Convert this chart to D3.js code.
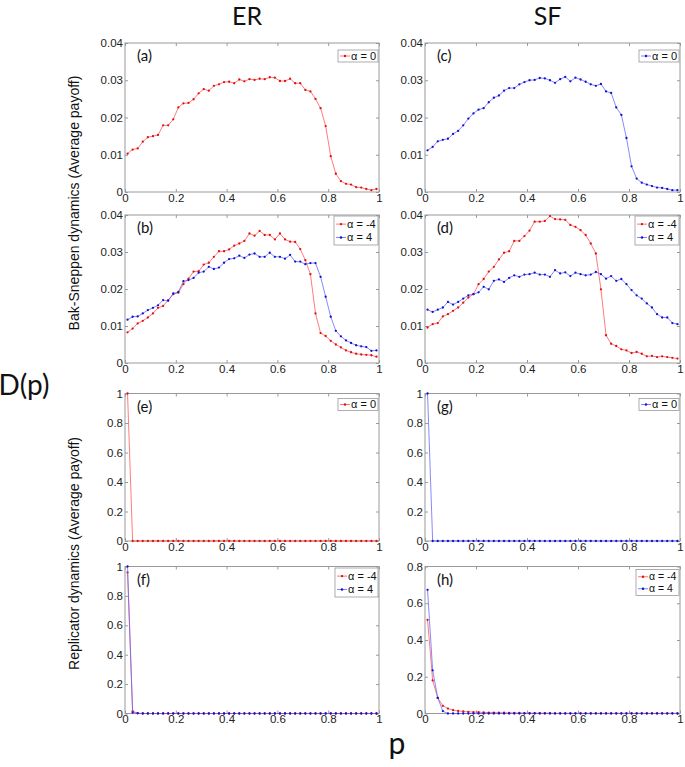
<!DOCTYPE html>
<html><head><meta charset="utf-8">
<script src="https://cdn.jsdelivr.net/npm/d3@7"></script>
<style>body{margin:0;background:#fff}svg{display:block}</style>
</head><body>
<svg id="chart" width="685" height="767"></svg>
<script>
// ---------- data ----------
const pValues = [0.01,0.03,0.05,0.07,0.09,0.11,0.13,0.15,0.17,0.19,
  0.21,0.23,0.25,0.27,0.29,0.31,0.33,0.35,0.37,0.39,
  0.41,0.43,0.45,0.47,0.49,0.51,0.53,0.55,0.57,0.59,
  0.61,0.63,0.65,0.67,0.69,0.71,0.73,0.75,0.77,0.79,
  0.81,0.83,0.85,0.87,0.89,0.91,0.93,0.95,0.97,0.99];

// (a) ER, Bak-Sneppen, alpha = 0
const erBS_alpha0 = [0.0103,0.0114,0.0117,0.0135,0.0147,0.0150,0.0153,0.0179,0.0179,0.0195,
  0.0227,0.0238,0.0239,0.0249,0.0265,0.0276,0.0272,0.0285,0.0289,0.0295,
  0.0296,0.0292,0.0302,0.0297,0.0303,0.0301,0.0304,0.0303,0.0308,0.0307,
  0.0298,0.0298,0.0304,0.0292,0.0292,0.0274,0.0270,0.0250,0.0225,0.0177,
  0.0096,0.0049,0.0029,0.0022,0.0020,0.0013,0.0012,0.0008,0.0005,0.0008];
// (c) SF, Bak-Sneppen, alpha = 0
const sfBS_alpha0 = [0.0112,0.0121,0.0136,0.0140,0.0143,0.0156,0.0164,0.0179,0.0197,0.0211,
  0.0221,0.0225,0.0241,0.0253,0.0259,0.0272,0.0279,0.0279,0.0289,0.0295,
  0.0300,0.0301,0.0306,0.0305,0.0300,0.0293,0.0303,0.0309,0.0297,0.0307,
  0.0302,0.0296,0.0289,0.0285,0.0290,0.0270,0.0266,0.0227,0.0207,0.0145,
  0.0069,0.0036,0.0025,0.0020,0.0016,0.0012,0.0011,0.0008,0.0005,0.0005];
// (b) ER, Bak-Sneppen, alpha = -4 / 4
const erBS_alphaM4 = [0.0083,0.0093,0.0107,0.0114,0.0123,0.0134,0.0149,0.0154,0.0170,0.0186,
  0.0190,0.0213,0.0228,0.0247,0.0248,0.0266,0.0271,0.0287,0.0302,0.0302,
  0.0307,0.0317,0.0323,0.0330,0.0350,0.0344,0.0357,0.0346,0.0346,0.0334,
  0.0350,0.0334,0.0328,0.0327,0.0308,0.0278,0.0240,0.0134,0.0081,0.0073,
  0.0060,0.0050,0.0042,0.0034,0.0029,0.0025,0.0023,0.0022,0.0021,0.0017];
const erBS_alpha4 = [0.0117,0.0125,0.0126,0.0134,0.0143,0.0149,0.0156,0.0170,0.0168,0.0188,
  0.0192,0.0221,0.0224,0.0230,0.0244,0.0247,0.0260,0.0254,0.0258,0.0271,
  0.0281,0.0283,0.0290,0.0284,0.0293,0.0296,0.0287,0.0287,0.0298,0.0287,
  0.0287,0.0282,0.0292,0.0274,0.0274,0.0267,0.0270,0.0270,0.0233,0.0179,
  0.0125,0.0087,0.0072,0.0061,0.0054,0.0048,0.0045,0.0043,0.0033,0.0034];
// (d) SF, Bak-Sneppen, alpha = -4 / 4
const sfBS_alphaM4 = [0.0096,0.0105,0.0108,0.0126,0.0132,0.0141,0.0150,0.0163,0.0177,0.0186,
  0.0213,0.0227,0.0247,0.0260,0.0280,0.0298,0.0302,0.0330,0.0330,0.0343,
  0.0358,0.0382,0.0382,0.0384,0.0397,0.0389,0.0388,0.0387,0.0373,0.0368,
  0.0359,0.0346,0.0323,0.0296,0.0199,0.0075,0.0052,0.0046,0.0037,0.0034,
  0.0027,0.0030,0.0025,0.0018,0.0019,0.0016,0.0018,0.0016,0.0014,0.0012];
const sfBS_alpha4 = [0.0144,0.0138,0.0144,0.0150,0.0165,0.0158,0.0165,0.0174,0.0183,0.0186,
  0.0191,0.0206,0.0199,0.0222,0.0226,0.0219,0.0230,0.0237,0.0233,0.0239,
  0.0240,0.0244,0.0239,0.0239,0.0233,0.0251,0.0242,0.0245,0.0235,0.0244,
  0.0240,0.0237,0.0239,0.0246,0.0240,0.0228,0.0235,0.0222,0.0227,0.0213,
  0.0197,0.0183,0.0174,0.0161,0.0150,0.0132,0.0123,0.0123,0.0108,0.0105];
// (e) ER, Replicator, alpha = 0
const erRep_alpha0 = [1,0,0,0,0,0,0,0,0,0, 0,0,0,0,0,0,0,0,0,0, 0,0,0,0,0,0,0,0,0,0,
  0,0,0,0,0,0,0,0,0,0, 0,0,0,0,0,0,0,0,0,0];
// (g) SF, Replicator, alpha = 0
const sfRep_alpha0 = [1,0,0,0,0,0,0,0,0,0, 0,0,0,0,0,0,0,0,0,0, 0,0,0,0,0,0,0,0,0,0,
  0,0,0,0,0,0,0,0,0,0, 0,0,0,0,0,0,0,0,0,0];
// (f) ER, Replicator, alpha = -4 / 4
const erRep_alphaM4 = [0.96,0.016,0.002,0,0,0,0,0,0,0, 0,0,0,0,0,0,0,0,0,0, 0,0,0,0,0,0,0,0,0,0,
  0,0,0,0,0,0,0,0,0,0, 0,0,0,0,0,0,0,0,0,0];
const erRep_alpha4 = [1.0,0.006,0.001,0,0,0,0,0,0,0, 0,0,0,0,0,0,0,0,0,0, 0,0,0,0,0,0,0,0,0,0,
  0,0,0,0,0,0,0,0,0,0, 0,0,0,0,0,0,0,0,0,0];
// (h) SF, Replicator, alpha = -4 / 4
const sfRep_alphaM4 = [0.51,0.18,0.085,0.042,0.027,0.018,0.014,0.011,0.009,0.008,
  0.007,0.006,0.005,0.005,0.004,0.004,0.003,0.003,0.003,0.002,
  0.002,0.002,0.002,0.002,0.002,0.001,0.001,0.001,0.001,0.001,
  0.001,0.001,0.001,0.001,0.001,0.001,0.001,0.001,0.001,0.001,
  0.001,0.001,0.001,0.001,0.001,0.001,0.001,0.001,0.001,0.001];
const sfRep_alpha4 = [0.673,0.235,0.085,0.013,0,0,0,0,0,0, 0,0,0,0,0,0,0,0,0,0, 0,0,0,0,0,0,0,0,0,0,
  0,0,0,0,0,0,0,0,0,0, 0,0,0,0,0,0,0,0,0,0];

// ticks
const xTicks = [0,0.2,0.4,0.6,0.8,1];
const xTickLabels = ["0","0.2","0.4","0.6","0.8","1"];
const yTicksBS = [0,0.01,0.02,0.03,0.04];
const yTickLabelsBS = ["0","0.01","0.02","0.03","0.04"];
const yTicksRep = [0,0.2,0.4,0.6,0.8,1];
const yTickLabelsRep = ["0","0.2","0.4","0.6","0.8","1"];
const yTicksRepH = [0,0.2,0.4,0.6,0.8];
const yTickLabelsRepH = ["0","0.2","0.4","0.6","0.8"];

const colTitles = ["ER","SF"];
const rowTitles = ["Bak-Sneppen dynamics (Average payoff)","Replicator dynamics (Average payoff)"];
const panelLabels = ["(a)","(b)","(e)","(f)","(c)","(d)","(g)","(h)"];
const labelA0 = "α = 0", labelAM4 = "α = -4", labelA4 = "α = 4";

// ---------- styling / layout ----------
const RED = {line:"#ff5050", dot:"#e01010"};
const BLUE = {line:"#6060ff", dot:"#1010d0"};
const cols = [[125,379],[425,680]];
const rows = [[43,192],[215,363],[393.5,541],[566.5,713.5]];
const tickFont = "'Liberation Sans', Arial, sans-serif";
const hdrFont = "Lato, 'Open Sans', sans-serif";

const panels = [
  {col:0,row:0,lab:panelLabels[0],yMax:0.04,yt:yTicksBS,ytl:yTickLabelsBS,
   series:[{d:erBS_alpha0,c:RED,name:labelA0}],leg:{dy:7,h:12,w:40}},
  {col:0,row:1,lab:panelLabels[1],yMax:0.04,yt:yTicksBS,ytl:yTickLabelsBS,
   series:[{d:erBS_alphaM4,c:RED,name:labelAM4},{d:erBS_alpha4,c:BLUE,name:labelA4}],leg:{dy:1,h:29,w:44}},
  {col:0,row:2,lab:panelLabels[2],yMax:1,yt:yTicksRep,ytl:yTickLabelsRep,
   series:[{d:erRep_alpha0,c:RED,name:labelA0}],leg:{dy:5,h:12,w:40}},
  {col:0,row:3,lab:panelLabels[3],yMax:1,yt:yTicksRep,ytl:yTickLabelsRep,
   series:[{d:erRep_alphaM4,c:RED,name:labelAM4},{d:erRep_alpha4,c:BLUE,name:labelA4}],leg:{dy:1.5,h:29,w:43}},
  {col:1,row:0,lab:panelLabels[4],yMax:0.04,yt:yTicksBS,ytl:yTickLabelsBS,
   series:[{d:sfBS_alpha0,c:BLUE,name:labelA0}],leg:{dy:7,h:12,w:40}},
  {col:1,row:1,lab:panelLabels[5],yMax:0.04,yt:yTicksBS,ytl:yTickLabelsBS,
   series:[{d:sfBS_alphaM4,c:RED,name:labelAM4},{d:sfBS_alpha4,c:BLUE,name:labelA4}],leg:{dy:1,h:29,w:44}},
  {col:1,row:2,lab:panelLabels[6],yMax:1,yt:yTicksRep,ytl:yTickLabelsRep,
   series:[{d:sfRep_alpha0,c:BLUE,name:labelA0}],leg:{dy:5,h:12,w:40}},
  {col:1,row:3,lab:panelLabels[7],yMax:0.8,yt:yTicksRepH,ytl:yTickLabelsRepH,
   series:[{d:sfRep_alphaM4,c:RED,name:labelAM4},{d:sfRep_alpha4,c:BLUE,name:labelA4}],leg:{dy:3,h:26,w:43}}
];

const svg = d3.select("#chart");
svg.append("rect").attr("width",685).attr("height",767).attr("fill","#fff");

// column titles
colTitles.forEach((t,i)=>{
  svg.append("text").attr("x",(cols[i][0]+cols[i][1])/2 - 5).attr("y",25)
    .attr("text-anchor","middle").attr("font-family",hdrFont).attr("font-size",25)
    .attr("fill","#111").text(t);
});
// D(p) and p
svg.append("text").attr("x",24).attr("y",395).attr("text-anchor","middle")
  .attr("font-family",hdrFont).attr("font-size",28).attr("fill","#111").text("D(p)");
svg.append("text").attr("x",397).attr("y",754).attr("text-anchor","middle")
  .attr("font-family",hdrFont).attr("font-size",30).attr("fill","#111").text("p");
// row titles
[[rows[0][0],rows[1][1]],[rows[2][0],rows[3][1]]].forEach((r,i)=>{
  svg.append("text").attr("transform",`translate(79,${(r[0]+r[1])/2}) rotate(-90)`)
    .attr("text-anchor","middle").attr("font-family",tickFont).attr("font-size",14)
    .attr("fill","#111").text(rowTitles[i]);
});

panels.forEach(pn=>{
  const [x0,x1] = cols[pn.col], [y0,y1] = rows[pn.row];
  const x = d3.scaleLinear().domain([0,1]).range([x0,x1]);
  const y = d3.scaleLinear().domain([0,pn.yMax]).range([y1,y0]);
  const g = svg.append("g");
  // box
  g.append("rect").attr("x",x0).attr("y",y0).attr("width",x1-x0).attr("height",y1-y0)
    .attr("fill","#fff").attr("stroke","#9a9a9a").attr("stroke-width",1);
  const tl = 3;
  const bx = d3.axisBottom(x).tickValues(xTicks).tickSizeInner(-tl).tickSizeOuter(0)
    .tickFormat((d,i)=>xTickLabels[i]);
  const ax = g.append("g").attr("transform",`translate(0,${y1})`).call(bx);
  const tx = d3.axisTop(x).tickValues(xTicks).tickSizeInner(-tl).tickSizeOuter(0).tickFormat("");
  const axT = g.append("g").attr("transform",`translate(0,${y0})`).call(tx);
  const ly = d3.axisLeft(y).tickValues(pn.yt).tickSizeInner(-tl).tickSizeOuter(0)
    .tickFormat((d,i)=>pn.ytl[i]);
  const ayL = g.append("g").attr("transform",`translate(${x0},0)`).call(ly);
  const ry = d3.axisRight(y).tickValues(pn.yt).tickSizeInner(-tl).tickSizeOuter(0).tickFormat("");
  const ayR = g.append("g").attr("transform",`translate(${x1},0)`).call(ry);
  [ax,axT,ayL,ayR].forEach(a=>{
    a.select(".domain").remove();
    a.selectAll(".tick line").attr("stroke","#9a9a9a");
    a.selectAll("text").attr("font-family",tickFont).attr("font-size",11.5).attr("fill","#222");
  });
  ax.selectAll("text").attr("dy","0.6em").attr("y",3);
  ayL.selectAll("text").attr("x",-2);

  pn.series.forEach(s=>{
    const line = d3.line().x((d,i)=>x(pValues[i])).y(d=>y(d));
    g.append("path").datum(s.d).attr("d",line).attr("fill","none")
      .attr("stroke",s.c.line).attr("stroke-width",0.75);
    g.selectAll(null).data(s.d).enter().append("circle")
      .attr("cx",(d,i)=>x(pValues[i])).attr("cy",d=>y(d)).attr("r",1.15).attr("fill",s.c.dot);
  });

  g.append("text").attr("x",x0+12).attr("y",y0+18).attr("font-family",hdrFont)
    .attr("font-size",15).attr("fill","#111").text(pn.lab);

  // legend
  const L = pn.leg, lx = x1-1-L.w, lyTop = y0+L.dy;
  g.append("rect").attr("x",lx).attr("y",lyTop).attr("width",L.w).attr("height",L.h)
    .attr("fill","#fff").attr("stroke","#9a9a9a").attr("stroke-width",0.8);
  const n = pn.series.length;
  pn.series.forEach((s,i)=>{
    const cy = n===1 ? lyTop+L.h/2 : lyTop + L.h*(i===0?0.28:0.74);
    g.append("line").attr("x1",lx+2).attr("x2",lx+12).attr("y1",cy).attr("y2",cy)
      .attr("stroke",s.c.line).attr("stroke-width",0.8);
    g.append("circle").attr("cx",lx+7).attr("cy",cy).attr("r",1.2).attr("fill",s.c.dot);
    g.append("text").attr("x",lx+13).attr("y",cy).attr("dy","0.35em")
      .attr("font-family",tickFont).attr("font-size",n===1?11:(L.h<28?10.5:11)).attr("fill","#111").text(s.name);
  });
});
</script>
</body></html>
